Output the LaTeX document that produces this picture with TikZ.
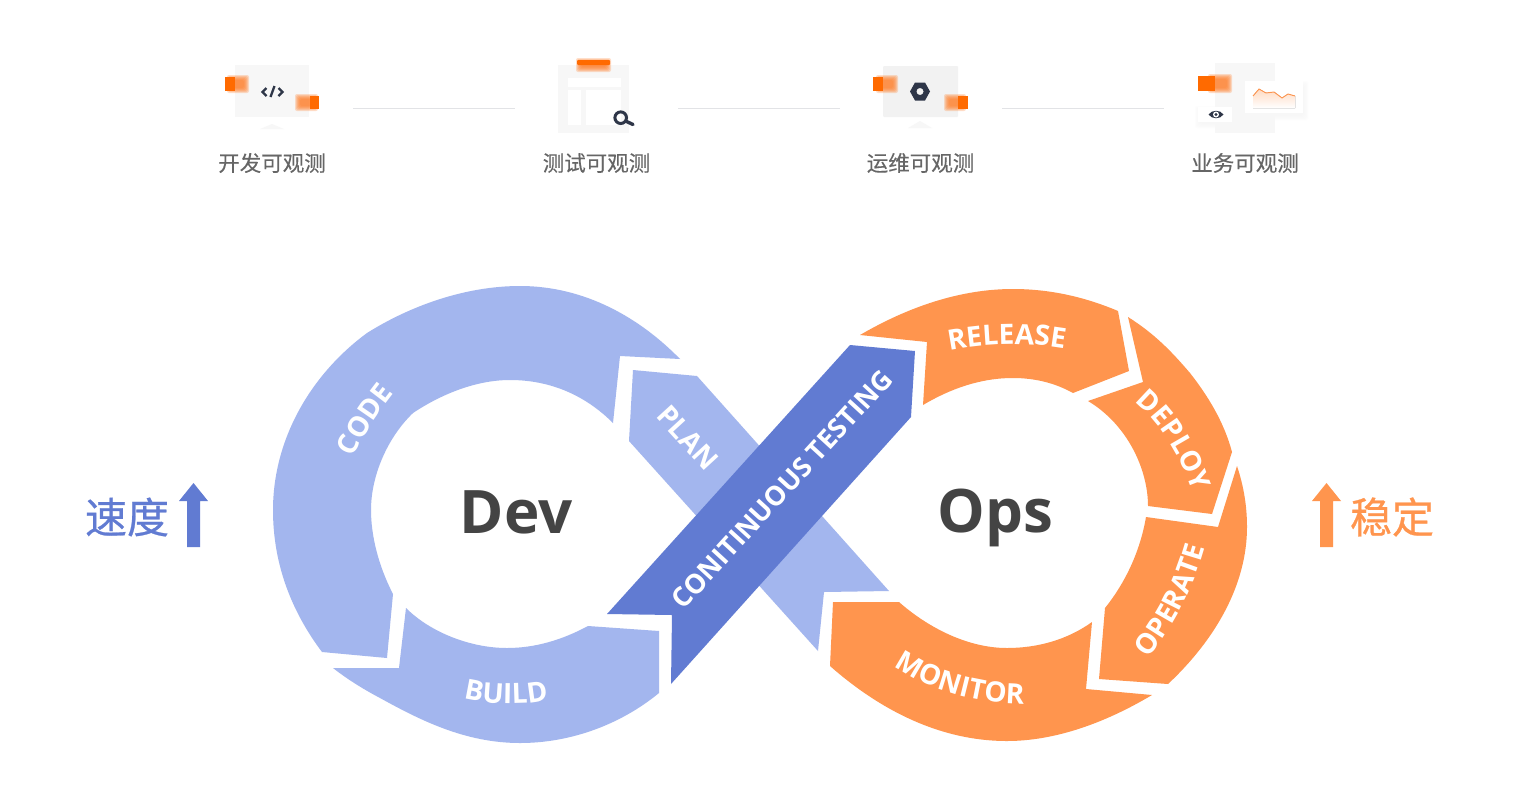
\documentclass[tikz,border=0pt]{standalone}
\usepackage{fontspec}
\setmainfont{Open Sans}
\newfontfamily\cjk[AutoFakeBold=0.25]{Noto Sans CJK SC}
\newfontfamily\cjkside[FakeBold=0.6]{Noto Sans CJK SC}
\usetikzlibrary{decorations.text}
\definecolor{lblue}{HTML}{A3B6EE}
\definecolor{dblue}{HTML}{617BD2}
\definecolor{orng}{HTML}{FF954E}
\definecolor{vivid}{HTML}{FF6A00}
\definecolor{softo}{HTML}{FF7F2A}
\definecolor{inkd}{HTML}{2E3648}
\definecolor{capg}{HTML}{666666}
\definecolor{bigt}{HTML}{444444}
\definecolor{ruleg}{HTML}{E2E3E6}
\newcommand{\softbox}[6][.25]{%
  \foreach \ii in {4,3,2,1,0,-1}{
    \fill[#6,opacity=#1,rounded corners=2pt] ({#2-\ii},{#3-\ii}) rectangle ({#4+\ii},{#5+\ii});
  }}
\newcommand{\labf}{\fontsize{28}{28}\selectfont\bfseries}
\newcommand{\curvelabel}[2]{\path[postaction={decorate},decoration={text along path,text align=center,text={|\labf\color{white}|#1}}] #2;}
\tikzset{
  caption/.style={font=\cjk\fontsize{21.5}{22}\selectfont\bfseries,text=capg,inner sep=0pt},
  rulerline/.style={draw=ruleg,line width=1pt},
  bigword/.style={font=\fontsize{60}{60}\selectfont\bfseries,text=bigt,inner sep=0pt,anchor=base},
  straightlab/.style={font=\labf,text=white,inner sep=0pt},
  sideword/.style={font=\cjkside\fontsize{42}{42}\selectfont,inner sep=0pt},
  inkline/.style={draw=inkd,line width=2.3pt,line join=miter},
}
\begin{document}
\begin{tikzpicture}[x=1pt,y=-1pt]
\useasboundingbox (0,0) rectangle (1520,804);
\fill[white] (0,0) rectangle (1520,804);

% ---------- icon 1
\fill[black!3] (235,65) rectangle (309,117);
\fill[black!3] (260,129) -- (272,124) -- (284,129) -- cycle;
\softbox{231}{79}{245}{89}{softo}
\fill[vivid] (225,77) rectangle (235,91);
\softbox{299}{98}{314}{107}{softo}
\fill[vivid] (310,96) rectangle (319,109);
\draw[inkline] (266.5,88) -- (262.5,92) -- (266.5,96);
\draw[inkline] (270.5,97) -- (274.5,86);
\draw[inkline] (278.5,88) -- (282.5,92) -- (278.5,96);

% ---------- icon 2
\fill[black!3] (558,65) rectangle (629,133);
\fill[white] (568,78) rectangle (621,87);
\fill[white] (568,90) rectangle (581,125);
\fill[white] (586,90) rectangle (621,125);
\softbox{580}{62}{607}{68}{softo}
\fill[vivid,rounded corners=1pt] (577,60) rectangle (610,65);
\draw[inkd,line width=3pt] (620.7,117.7) circle (5.8);
\draw[inkd,line width=3.4pt,line cap=round] (625.5,121) -- (633,124.5);

% ---------- icon 3
\fill[black!5,rounded corners=1pt] (883,66) rectangle (958,117);
\fill[black!3] (908,128) -- (920,121) -- (932,128) -- cycle;
\softbox{880}{79}{894}{89}{softo}
\fill[vivid] (873,77) rectangle (883,91);
\softbox{948}{98}{962}{107}{softo}
\fill[vivid] (958,96) rectangle (968,109);
\fill[inkd,even odd rule] (910,91.5) -- (915,82.5) -- (925,82.5) -- (930,91.5) -- (925,100.5) -- (915,100.5) -- cycle (920,91.5) circle (3.6);

% ---------- icon 4
\fill[black!3] (1215,63) rectangle (1275,133);
\softbox[.2]{1247}{85}{1304}{116}{black!3}
\fill[white] (1245,81) rectangle (1303,113);
\softbox{1212}{78}{1228}{89}{softo}
\fill[vivid] (1198,76) rectangle (1215,91);
\softbox[.2]{1199}{110}{1232}{124}{black!3}
\fill[white] (1198,107) rectangle (1232,122);
\fill[top color=orng!35,bottom color=white] (1253,96) -- (1259,89) -- (1266,93) -- (1274,92) -- (1282,98) -- (1288,94) -- (1295,96) -- (1295,108) -- (1253,108) -- cycle;
\draw[orng,line width=.9pt] (1253,96) -- (1259,89) -- (1266,93) -- (1274,92) -- (1282,98) -- (1288,94) -- (1295,96);
\fill[inkd] (1208.5,114.5) .. controls (1212,109.5) and (1220,109.5) .. (1223.5,114.5) .. controls (1220,119.5) and (1212,119.5) .. (1208.5,114.5) -- cycle;
\fill[white] (1216,114.5) circle (3);
\fill[inkd] (1216,114.5) circle (1.7);

% ---------- rules between icons
\coordinate (a1) at (353,108.5); \coordinate (a2) at (515,108.5);
\coordinate (b1) at (678,108.5); \coordinate (b2) at (840,108.5);
\coordinate (c1) at (1002,108.5); \coordinate (c2) at (1164,108.5);
\draw[rulerline] (a1) -- (a2);
\draw[rulerline] (b1) -- (b2);
\draw[rulerline] (c1) -- (c2);

% ---------- captions
\node[caption] (cap1) at (272,163) {开发可观测};
\node[caption] (cap2) at (596.5,163) {测试可观测};
\node[caption] (cap3) at (920.5,163) {运维可观测};
\node[caption] (cap4) at (1245,163) {业务可观测};

% ---------- Dev loop
\fill[lblue] (680,359) .. controls (640,318) and (585,286) .. (520,286)
  .. controls (465,286) and (410,306) .. (367,333)
  .. controls (310,375) and (273,440) .. (273,510)
  .. controls (273,565) and (292,612) .. (322,652)
  -- (387,658) -- (393,594)
  .. controls (378,565) and (371,535) .. (371,510)
  .. controls (371,475) and (388,437) .. (413,413)
  .. controls (440,395) and (475,380) .. (510,380)
  .. controls (550,380) and (585,395) .. (613,423)
  -- (620,356) -- cycle;
\fill[lblue] (333,668) -- (399,668) -- (406,608)
  .. controls (430,632) and (470,648) .. (507,648)
  .. controls (535,648) and (562,640) .. (588,626)
  -- (659,631) -- (659,693)
  .. controls (620,725) and (570,743) .. (520,743)
  .. controls (465,743) and (420,720) .. (380,698)
  .. controls (363,689) and (347,679) .. (333,668) -- cycle;
\fill[lblue] (633,370) -- (697,376) -- (889,591) -- (824,592) -- (818,651) -- (629,441) -- cycle;

% ---------- Continuous testing band
\fill[dblue] (850,345) -- (915,351) -- (911,417) -- (671,684) -- (672,615) -- (607,614) -- cycle;

% ---------- Ops loop
\fill[orng] (860,335) .. controls (908,307) and (960,289) .. (1013,289)
  .. controls (1050,289) and (1085,297) .. (1118,311)
  -- (1129,371) -- (1073,393)
  .. controls (1055,383) and (1035,378) .. (1013,378)
  .. controls (980,378) and (950,389) .. (923,405)
  -- (927,342) -- cycle;
\fill[orng] (1128,317) .. controls (1155,334) and (1172,352) .. (1190,373)
  .. controls (1208,396) and (1224,422) .. (1232,452)
  -- (1212,514) -- (1148,506)
  .. controls (1148,470) and (1128,425) .. (1088,401)
  -- (1143,382) -- cycle;
\fill[orng] (1237,466) .. controls (1244,487) and (1247,507) .. (1247,527)
  .. controls (1247,585) and (1215,640) .. (1168,684)
  -- (1099,679) -- (1105,608)
  .. controls (1125,583) and (1140,552) .. (1146,517)
  -- (1218,527) -- cycle;
\fill[orng] (1152,695) .. controls (1105,723) and (1055,741) .. (1007,741)
  .. controls (940,741) and (880,710) .. (830,666)
  -- (833,602) -- (899,602)
  .. controls (925,625) and (965,648) .. (1007,648)
  .. controls (1037,648) and (1067,640) .. (1092,622)
  -- (1086,689) -- cycle;

% ---------- band and loop labels
\node[bigword] (dev) at (516,533) {Dev};
\node[bigword] (ops) at (995.5,532) {Ops};
\node[straightlab,rotate=-47.5] (plan) at (688,438) {PLAN};
\node[straightlab,rotate=47.5,font=\fontsize{27}{27}\selectfont\bfseries] (ct) at (782,489) {CONITINUOUS TESTING};
\curvelabel{CODE}{(353,457) .. controls (364,435) and (378,413) .. (394,393)}
\curvelabel{BUILD}{(463,698) .. controls (480,704) and (527,706) .. (549,700)}
\curvelabel{RELEASE}{(947,351) .. controls (985,343) and (1030,342) .. (1067,349)}
\curvelabel{DEPLOY}{(1138,405) .. controls (1161,425) and (1179,455) .. (1191,487)}
\curvelabel{OPERATE}{(1148,659) .. controls (1171,629) and (1192,594) .. (1205,547)}
\curvelabel{MONITOR}{(895,667) .. controls (925,688) and (973,703) .. (1022,704)}

% ---------- side labels
\node[sideword,text=dblue] (speed) at (127,517) {速度};
\fill[dblue] (193.5,483) -- (208,501) -- (200,501) -- (200,547) -- (187,547) -- (187,501) -- (179,501) -- cycle;
\node[sideword,text=orng] (stable) at (1392,517) {稳定};
\fill[orng] (1326.5,483) -- (1341,501) -- (1333,501) -- (1333,547) -- (1320,547) -- (1320,501) -- (1312,501) -- cycle;
\end{tikzpicture}
\end{document}
